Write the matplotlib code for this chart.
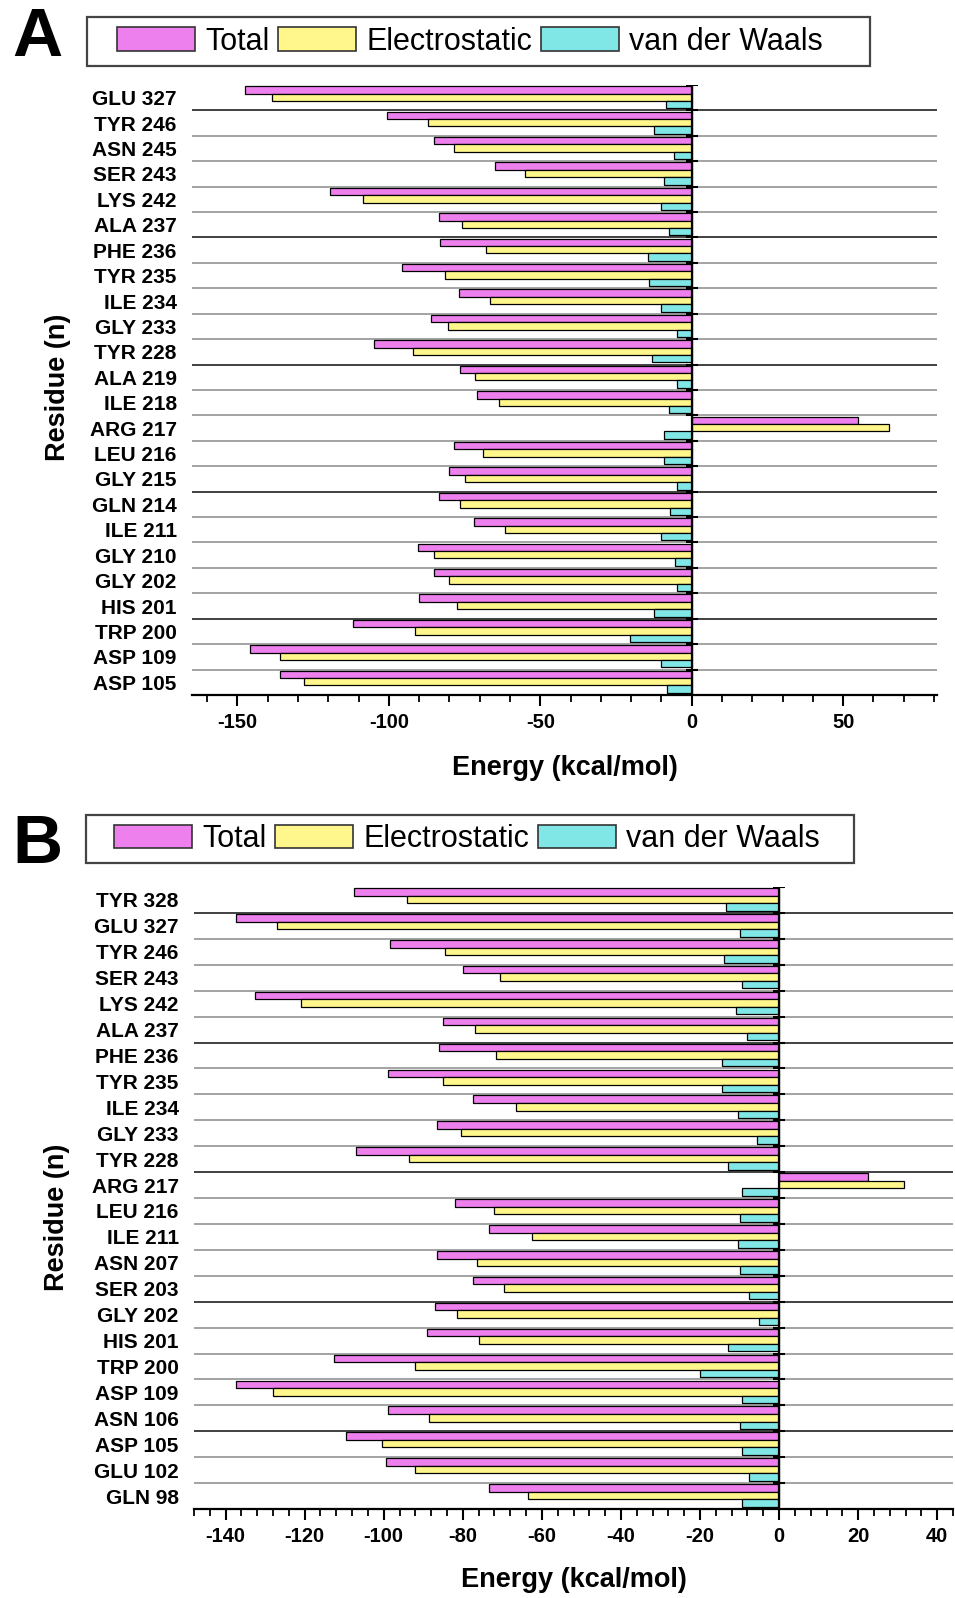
import matplotlib
matplotlib.use("Agg")
import matplotlib.pyplot as plt
import numpy as np
from matplotlib.patches import Patch, Rectangle
from matplotlib.ticker import MultipleLocator

plt.rcParams['font.family'] = ['Liberation Sans', 'DejaVu Sans']
plt.rcParams['axes.unicode_minus'] = False

# panel A data (kcal/mol), top to bottom
labels_a = ["GLU 327", "TYR 246", "ASN 245", "SER 243", "LYS 242", "ALA 237",
            "PHE 236", "TYR 235", "ILE 234", "GLY 233", "TYR 228", "ALA 219",
            "ILE 218", "ARG 217", "LEU 216", "GLY 215", "GLN 214", "ILE 211",
            "GLY 210", "GLY 202", "HIS 201", "TRP 200", "ASP 109", "ASP 105"]
total_a = [-147.5, -100.5, -85, -65, -119.5, -83.5, -83, -95.5, -77, -86, -105, -76.5,
           -71, 55, -78.5, -80, -83.5, -72, -90.5, -85, -90, -112, -146, -136]
elec_a = [-138.5, -87, -78.5, -55, -108.5, -76, -68, -81.5, -66.5, -80.5, -92, -71.5,
          -63.5, 65, -69, -75, -76.5, -61.5, -85, -80, -77.5, -91.5, -136, -128]
vdw_a = [-8.5, -12.5, -6, -9, -10, -7.5, -14.5, -14, -10, -5, -13, -5,
         -7.5, -9, -9, -5, -7, -10, -5.5, -5, -12.5, -20.5, -10, -8]

# panel B data
labels_b = ["TYR 328", "GLU 327", "TYR 246", "SER 243", "LYS 242", "ALA 237",
            "PHE 236", "TYR 235", "ILE 234", "GLY 233", "TYR 228", "ARG 217",
            "LEU 216", "ILE 211", "ASN 207", "SER 203", "GLY 202", "HIS 201",
            "TRP 200", "ASP 109", "ASN 106", "ASP 105", "GLU 102", "GLN 98"]
total_b = [-107.5, -137.5, -98.5, -80, -132.5, -85, -86, -99, -77.5, -86.5, -107, 22.5,
           -82, -73.5, -86.5, -77.5, -87, -89, -112.5, -137.5, -99, -109.5, -99.5, -73.5]
elec_b = [-94, -127, -84.5, -70.5, -121, -77, -71.5, -85, -66.5, -80.5, -93.5, 31.5,
          -72, -62.5, -76.5, -69.5, -81.5, -76, -92, -128, -88.5, -100.5, -92, -63.5]
vdw_b = [-13.5, -10, -14, -9.5, -11, -8, -14.5, -14.5, -10.5, -5.5, -13, -9.5,
         -10, -10.5, -10, -7.5, -5, -13, -20, -9.5, -10, -9.5, -7.5, -9.5]

series_names = ["Total", "Electrostatic", "van der Waals"]
colors = ["#ee80ee", "#fff68c", "#80e6e6"]
offsets = [-0.31, -0.02, 0.27]
bar_h = 0.29

W, H = 955, 1598
fig = plt.figure(figsize=(W / 100, H / 100), dpi=100)


def panel(rect, labels, total, elec, vdw, xlim, major, minor):
    ax = fig.add_axes(rect)
    n = len(labels)
    y = np.arange(n)
    for vals, off, col in zip([total, elec, vdw], offsets, colors):
        ax.barh(y + off, vals, height=bar_h, color=col, edgecolor="black",
                linewidth=0.9, zorder=3)
    # separators between residues
    for k in range(n - 1):
        dark = (k % 5 == 0)
        ax.axhline(k + 0.5, color="#333333" if dark else "#8a8a8a",
                   lw=1.3 if dark else 1.1, zorder=1)
    ax.axvline(0, color="black", lw=1.6, zorder=4)
    ax.plot(np.zeros(n), y - 0.5, ls="none", marker="_", ms=9, mew=1.5,
            color="black", zorder=5)
    ax.set_ylim(n - 0.5, -0.5)
    ax.set_xlim(*xlim)
    ax.set_yticks(y)
    ax.set_yticklabels(labels, fontsize=15, fontweight="bold")
    ax.tick_params(axis="y", length=0, pad=11)
    ax.xaxis.set_major_locator(MultipleLocator(major))
    ax.xaxis.set_minor_locator(MultipleLocator(minor))
    ax.tick_params(axis="x", which="major", direction="out", length=8, width=1.5,
                   labelsize=14.5, pad=5)
    ax.tick_params(axis="x", which="minor", direction="out", length=5, width=1.3)
    plt.setp(ax.get_xticklabels(), fontweight="bold")
    for s in ["top", "right", "left"]:
        ax.spines[s].set_visible(False)
    ax.spines["bottom"].set_linewidth(1.6)
    ax.set_xlabel("Energy (kcal/mol)", fontsize=19.5, fontweight="bold", va="center")
    ax.set_ylabel("Residue (n)", fontsize=19.5, fontweight="bold", va="center")
    return ax


ax_a = panel([192 / W, 1 - 695 / H, 745 / W, 610 / H], labels_a, total_a, elec_a, vdw_a,
             (-165, 81), 50, 10)
ax_a.xaxis.set_label_coords(0.5, -0.12)
ax_a.yaxis.set_label_coords((58 - 192) / 745, 0.505)

ax_b = panel([194 / W, 1 - 1509 / H, 759 / W, 622 / H], labels_b, total_b, elec_b, vdw_b,
             (-148, 44), 20, 4)
ax_b.xaxis.set_label_coords(0.5, -0.114)
ax_b.yaxis.set_label_coords((57 - 194) / 759, 0.469)

handles = [Patch(facecolor=c, edgecolor="#333333", lw=1.2) for c in colors]


def legend_box(x0, y0, x1, y1, first_x, fs):
    fig.patches.append(Rectangle((x0 / W, 1 - y1 / H), (x1 - x0) / W, (y1 - y0) / H,
                                 transform=fig.transFigure, facecolor="white",
                                 edgecolor="#444444", lw=1.6))
    fig.legend(handles, series_names, loc="center left",
               bbox_to_anchor=(first_x / W, 1 - (y0 + y1) / 2 / H),
               ncol=3, frameon=False, fontsize=fs, borderpad=0, borderaxespad=0,
               handlelength=2.55, handleheight=0.8, handletextpad=0.33,
               columnspacing=0.3)


legend_box(87, 17, 870, 66, 117, 22)
legend_box(86, 815, 854, 863, 114, 22)

fig.text(12 / W, 1 - 38 / H, "A", fontsize=50, fontweight="bold", va="center",
         ha="left", family=["Liberation Sans Narrow", "Liberation Sans"])
fig.text(12 / W, 1 - 845 / H, "B", fontsize=50, fontweight="bold", va="center",
         ha="left", family=["Liberation Sans Narrow", "Liberation Sans"])

fig.savefig("out.png", dpi=100, facecolor="white")
